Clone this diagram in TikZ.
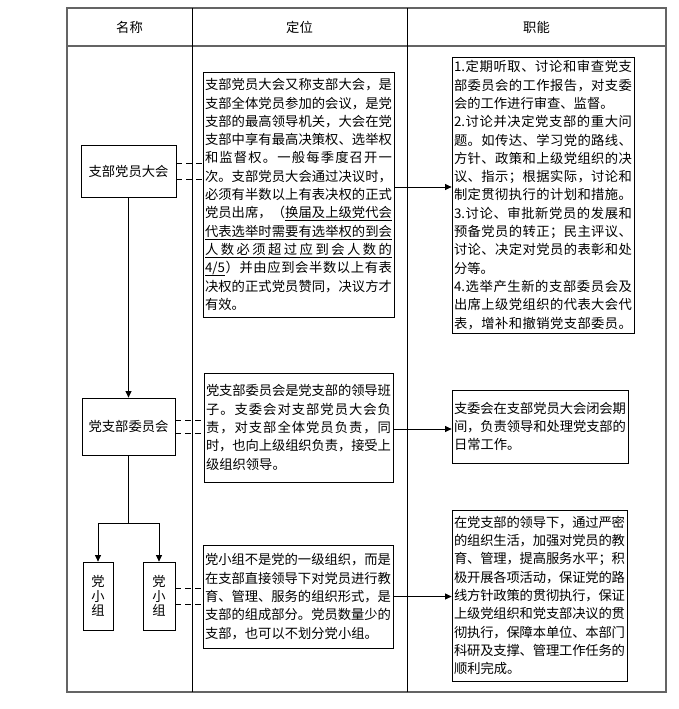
\documentclass[tikz,border=0pt]{standalone}
\usepackage{fontspec}
\setmainfont{Noto Sans CJK SC}
\usetikzlibrary{arrows.meta}
\newdimen\jw
\newif\ifjul \newif\ifjfirst \newif\ifjprevul
\def\jend{}
\def\jendmark{\jend}
\def\jbarmark{|}
\def\jgap{\hskip 0pt plus 1fil minus 1fil\relax}
\def\julgap{\leaders\hrule height -2.6pt depth 3.2pt\hskip 0pt plus 1fil minus 1fil\relax}
\def\julchar#1{\setbox0\hbox{#1}\rlap{\vrule height -2.6pt depth 3.2pt width \wd0}\box0 }
\def\jput#1{\ifjfirst\jfirstfalse\else\ifjul\ifjprevul\julgap\else\jgap\fi\else\jgap\fi\fi
  \ifjul\julchar{#1}\jprevultrue\else#1\jprevulfalse\fi}
\def\jaux#1{\def\jtmp{#1}\ifx\jtmp\jendmark\let\jnext\relax\else\ifx\jtmp\jbarmark\ifjul\julfalse\else\jultrue\fi\else\jput{#1}\fi\let\jnext\jaux\fi\jnext}
\def\jline#1{\hbox to \jw{\julfalse\jfirsttrue\jprevulfalse\jaux#1\jend}}
\def\nline#1{\hbox{#1}}
\definecolor{tabgray}{RGB}{100,100,100}
\tikzset{
  bx/.style={draw=black, line width=0.8pt, inner sep=0pt},
  arr/.style={-{Triangle[length=6.5pt,width=6pt]}, line width=0.8pt},
  dsh/.style={dash pattern=on 6pt off 4pt, line width=0.8pt},
  ln/.style={line width=0.8pt},
  tab/.style={draw=tabgray, line width=1.6pt},
  dv/.style={draw=black, line width=1pt}
}
\begin{document}
\begin{tikzpicture}[x=1pt,y=-1pt,every node/.style={font=\fontsize{13.3}{18.3}\selectfont, text=black}]
\useasboundingbox (0,0) rectangle (679,709);
% table
\draw[tab] (67,8) rectangle (666,692);
\draw[tab] (67,46) -- (666,46);
\draw[dv] (192,8) -- (192,692);
\draw[dv] (407,8) -- (407,692);
\node (h1) at (129.5,27) {名称};
\node (h2) at (299.5,27) {定位};
\node (h3) at (536.5,27) {职能};
% left boxes
\node[bx, minimum width=95pt, minimum height=52pt] (b1) at (128.5,171) {支部党员大会};
\node[bx, minimum width=93pt, minimum height=57pt] (b2) at (128.5,426.5) {党支部委员会};
\node[bx, minimum width=30pt, minimum height=68pt, align=center, font=\fontsize{13.3}{14.5}\selectfont] (g1) at (98,596) {党\\小\\组};
\node[bx, minimum width=32pt, minimum height=68pt, align=center, font=\fontsize{13.3}{14.5}\selectfont] (g2) at (159,596) {党\\小\\组};
% middle text boxes
\node[bx, minimum width=191pt, minimum height=245pt] (tb1) at (298.5,194.5) {\jw=187pt\relax\vbox{%
\jline{支部党员大会又称支部大会，是}
\jline{支部全体党员参加的会议，是党}
\jline{支部的最高领导机关，大会在党}
\jline{支部中享有最高决策权、选举权}
\jline{和监督权。一般每季度召开一}
\jline{次。支部党员大会通过决议时，}
\jline{必须有半数以上有表决权的正式}
\jline{党员出席，（|换届及上级党代会|}
\jline{|代表选举时需要有选举权的到会|}
\jline{|人数必须超过应到会人数的|}
\jline{|{4/5}|）并由应到会半数以上有表}
\jline{决权的正式党员赞同，决议方才}
\nline{有效。}}};
\node[bx, minimum width=189pt, minimum height=109pt] (tb2) at (298.5,427.5) {\jw=185pt\relax\vbox{%
\jline{党支部委员会是党支部的领导班}
\jline{子。支委会对支部党员大会负}
\jline{责，对支部全体党员负责，同}
\jline{时，也向上级组织负责，接受上}
\nline{级组织领导。}}};
\node[bx, minimum width=190pt, minimum height=103pt] (tb3) at (298,596.5) {\jw=186pt\relax\vbox{%
\jline{党小组不是党的一级组织，而是}
\jline{在支部直接领导下对党员进行教}
\jline{育、管理、服务的组织形式，是}
\jline{支部的组成部分。党员数量少的}
\nline{支部，也可以不划分党小组。}}};
% right boxes
\node[bx, minimum width=182pt, minimum height=276pt] (r1) at (543,195) {\jw=178pt\relax\vbox{%
\jline{{1.}定期听取、讨论和审查党支}
\jline{部委员会的工作报告，对支委}
\nline{会的工作进行审查、监督。}
\jline{{2.}讨论并决定党支部的重大问}
\jline{题。如传达、学习党的路线、}
\jline{方针、政策和上级党组织的决}
\jline{议、指示；根据实际，讨论和}
\jline{制定贯彻执行的计划和措施。}
\jline{{3.}讨论、审批新党员的发展和}
\jline{预备党员的转正；民主评议、}
\jline{讨论、决定对党员的表彰和处}
\nline{分等。}
\jline{{4.}选举产生新的支部委员会及}
\jline{出席上级党组织的代表大会代}
\jline{表，增补和撤销党支部委员。}}};
\node[bx, minimum width=176pt, minimum height=73pt] (r2) at (540,426.5) {\jw=172pt\relax\vbox{%
\jline{支委会在支部党员大会闭会期}
\jline{间，负责领导和处理党支部的}
\nline{日常工作。}}};
\node[bx, minimum width=175pt, minimum height=171pt] (r3) at (539.5,595.5) {\jw=171pt\relax\vbox{%
\jline{在党支部的领导下，通过严密}
\jline{的组织生活，加强对党员的教}
\jline{育、管理，提高服务水平；积}
\jline{极开展各项活动，保证党的路}
\jline{线方针政策的贯彻执行，保证}
\jline{上级党组织和党支部决议的贯}
\jline{彻执行，保障本单位、本部门}
\jline{科研及支撑、管理工作任务的}
\nline{顺利完成。}}};
% connectors
\draw[arr] (b1.south) -- (b2.north);
\coordinate (split) at (128.5,523);
\draw[ln] (b2.south) -- (split);
\draw[arr] (split) -| (g1.north);
\draw[arr] (split) -| (g2.north);
\draw[dsh] ([yshift=8pt]b1.east) -- ([yshift=8pt]b1.east -| tb1.west);
\draw[dsh] ([yshift=-8pt]b1.east) -- ([yshift=-8pt]b1.east -| tb1.west);
\draw[dsh] ([yshift=6.5pt]b2.east) -- ([yshift=6.5pt]b2.east -| tb2.west);
\draw[dsh] ([yshift=-6.5pt]b2.east) -- ([yshift=-6.5pt]b2.east -| tb2.west);
\draw[dsh] ([yshift=8pt]g2.east) -- ([yshift=8pt]g2.east -| tb3.west);
\draw[dsh] ([yshift=-8pt]g2.east) -- ([yshift=-8pt]g2.east -| tb3.west);
\draw[arr] ([yshift=7.5pt]tb1.east) -- ([yshift=7.5pt]tb1.east -| r1.west);
\draw[arr] ([yshift=-1.5pt]tb2.east) -- ([yshift=-1.5pt]tb2.east -| r2.west);
\draw[arr] (tb3.east) -- (tb3.east -| r3.west);
\end{tikzpicture}
\end{document}
